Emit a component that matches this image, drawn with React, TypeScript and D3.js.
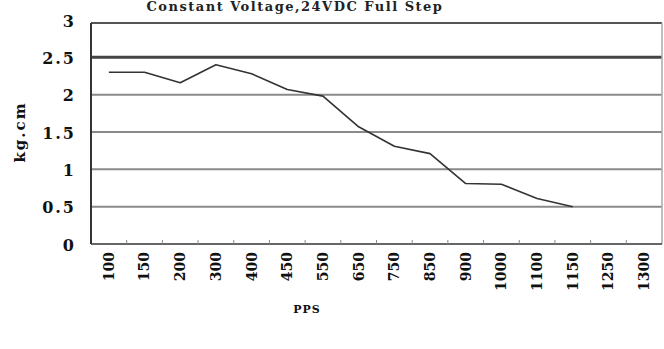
import React, { useEffect, useRef } from 'react';
import * as d3 from 'd3';

const categories = ['100', '150', '200', '300', '400', '450', '550', '650', '750', '850', '900', '1000', '1100', '1150', '1250', '1300'];
const torque: (number | null)[] = [2.3, 2.3, 2.16, 2.4, 2.28, 2.07, 1.98, 1.57, 1.31, 1.21, 0.81, 0.8, 0.61, 0.5, null, null];
const yTicks = [0, 0.5, 1, 1.5, 2, 2.5, 3];
const yTickLabels = ['0', '0.5', '1', '1.5', '2', '2.5', '3'];
const title = 'Constant  Voltage,24VDC Full Step';

const App: React.FC = () => {
  const svgRef = useRef<SVGSVGElement>(null);

  useEffect(() => {
    if (!svgRef.current) return;
    const width = 664;
    const height = 349;
    const left = 91;
    const right = 662;
    const top = 20;
    const bottom = 244;
    const font = '"DejaVu Serif", "Liberation Serif", serif';

    const svg = d3.select(svgRef.current);
    svg.selectAll('*').remove();
    svg.attr('width', width).attr('height', height).attr('viewBox', `0 0 ${width} ${height}`);

    svg.append('rect').attr('width', width).attr('height', height).attr('fill', '#fff');

    const x = d3.scaleBand<string>().domain(categories).range([left, right]);
    const y = d3.scaleLinear().domain([0, 3]).range([bottom, top]);

    // title squeezed into the top strip
    svg.append('text')
      .attr('x', 295)
      .attr('y', 11)
      .attr('text-anchor', 'middle')
      .style('font-family', font)
      .style('font-weight', 'bold')
      .style('font-size', '13px')
      .style('letter-spacing', '1.5px')
      .attr('fill', '#222')
      .text(title);

    // horizontal gridlines
    svg.append('g')
      .selectAll('line')
      .data(yTicks.filter(v => v > 0 && v < 3))
      .join('line')
      .attr('x1', left)
      .attr('x2', right)
      .attr('y1', d => y(d))
      .attr('y2', d => y(d))
      .attr('stroke', d => (d === 2.5 ? '#444' : '#8a8a8a'))
      .attr('stroke-width', d => (d === 2.5 ? 3 : 2));

    // plot frame
    svg.append('line').attr('x1', left).attr('x2', right).attr('y1', y(3) + 3).attr('y2', y(3) + 3)
      .attr('stroke', '#555').attr('stroke-width', 2);
    svg.append('line').attr('x1', right).attr('x2', right).attr('y1', y(3) + 3).attr('y2', y(0))
      .attr('stroke', '#aaa').attr('stroke-width', 1.5);
    svg.append('line').attr('x1', left).attr('x2', right).attr('y1', y(0)).attr('y2', y(0))
      .attr('stroke', '#666').attr('stroke-width', 2);
    svg.append('line').attr('x1', left).attr('x2', left).attr('y1', y(3) + 3).attr('y2', y(0))
      .attr('stroke', '#333').attr('stroke-width', 2);

    // x tick marks between categories
    svg.append('g')
      .selectAll('line')
      .data(categories.slice(1))
      .join('line')
      .attr('x1', d => x(d)!)
      .attr('x2', d => x(d)!)
      .attr('y1', y(0) - 4)
      .attr('y2', y(0))
      .attr('stroke', '#888')
      .attr('stroke-width', 1);

    // y tick labels
    svg.append('g')
      .selectAll('text')
      .data(yTicks)
      .join('text')
      .attr('x', 76)
      .attr('y', d => y(d) + 1)
      .attr('dy', '0.35em')
      .attr('text-anchor', 'end')
      .style('font-family', font)
      .style('font-weight', 'bold')
      .style('font-size', '16px')
      .style('letter-spacing', '2px')
      .attr('fill', '#111')
      .text((d, i) => yTickLabels[i]);

    // x tick labels, rotated
    svg.append('g')
      .selectAll('text')
      .data(categories)
      .join('text')
      .attr('transform', d => `translate(${x(d)! + x.bandwidth() / 2},${y(0) + 8}) rotate(-90)`)
      .attr('dy', '0.35em')
      .attr('text-anchor', 'end')
      .style('font-family', font)
      .style('font-weight', 'bold')
      .style('font-size', '14px')
      .attr('fill', '#111')
      .text(d => d);

    // axis titles
    svg.append('text')
      .attr('transform', `translate(20,132) rotate(-90)`)
      .attr('text-anchor', 'middle')
      .attr('dy', '0.35em')
      .style('font-family', font)
      .style('font-weight', 'bold')
      .style('font-size', '15px')
      .style('letter-spacing', '2px')
      .attr('fill', '#111')
      .text('kg.cm');

    svg.append('text')
      .attr('x', 307)
      .attr('y', 313)
      .attr('text-anchor', 'middle')
      .style('font-family', font)
      .style('font-weight', 'bold')
      .style('font-size', '11px')
      .style('letter-spacing', '1px')
      .attr('fill', '#111')
      .text('PPS');

    // torque curve
    const line = d3.line<number | null>()
      .defined(d => d !== null)
      .x((d, i) => x(categories[i])! + x.bandwidth() / 2)
      .y(d => y(d as number));

    svg.append('path')
      .datum(torque)
      .attr('d', line)
      .attr('fill', 'none')
      .attr('stroke', '#333')
      .attr('stroke-width', 1.6)
      .attr('stroke-linejoin', 'round');
  }, []);

  return (
    <svg
      ref={svgRef}
      style={{ position: 'absolute', left: 0, top: 0, display: 'block', background: '#fff' }}
    />
  );
};

export default App;
